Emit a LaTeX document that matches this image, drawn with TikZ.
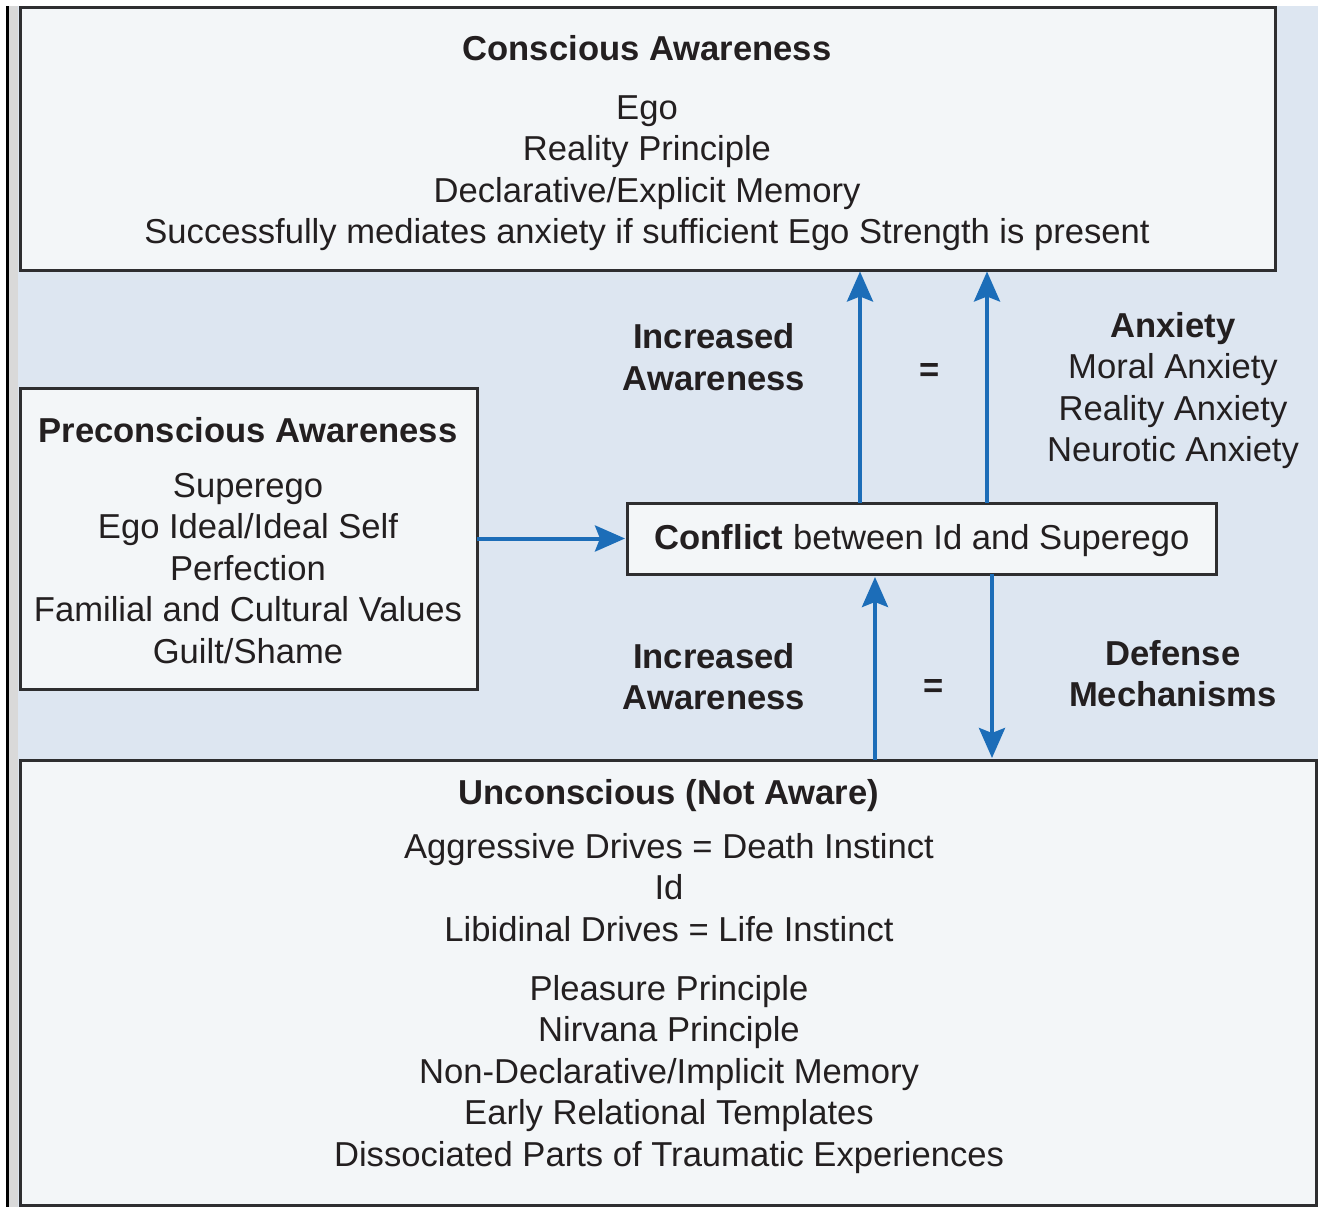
\documentclass[tikz,border=0pt]{standalone}
\usepackage{fontspec}
\setmainfont{Liberation Sans}
\usetikzlibrary{arrows.meta}

\definecolor{pagebg}{HTML}{DDE6F1}
\definecolor{stripgrey}{HTML}{D9D9D9}
\definecolor{boxfill}{HTML}{F3F6F8}
\definecolor{boxline}{HTML}{2E2E30}
\definecolor{arrowblue}{HTML}{1C6DB8}
\definecolor{ink}{HTML}{231F20}

\tikzset{
  panel/.style={draw=boxline, fill=boxfill, line width=3pt, inner sep=0pt, outer sep=0pt},
  txt/.style={anchor=base, inner sep=0pt, text=ink, font=\fontsize{34.6}{41.5}\selectfont},
  hd/.style={txt, font=\fontsize{34.6}{41.5}\selectfont\bfseries},
  eq/.style={anchor=center, inner sep=0pt, text=ink, font=\fontsize{34.6}{41.5}\selectfont\bfseries},
  flow/.style={draw=arrowblue, line width=4pt,
    -{Stealth[length=30pt, width=26pt, inset=5pt]}},
}

\begin{document}
\begin{tikzpicture}[x=1pt, y=-1pt]
  \useasboundingbox (0,0) rectangle (1322,1207);

  % page ground: white margin, black rule, grey strip, blue field
  \fill[white] (0,0) rectangle (1322,1207);
  \fill[pagebg] (18,6) rectangle (1318,1207);
  \fill[stripgrey] (8,6) rectangle (18,1207);
  \fill[black] (6,6) rectangle (8.5,1207);

  % level panels
  \node[panel, minimum width=1255pt, minimum height=262pt] (conscious) at (647.5,139) {};
  \node[panel, minimum width=457pt, minimum height=301pt] (precon) at (248.5,538.5) {};
  \node[panel, minimum width=589pt, minimum height=71pt] (conflict) at (921.5,538.5) {};
  \node[panel, minimum width=1296pt, minimum height=445pt] (uncon) at (668,982.5) {};

  % conscious level
  \node[hd]  (c0) at (647,60)    {Conscious Awareness};
  \node[txt] (c1) at (647,119)   {Ego};
  \node[txt] (c2) at (647,160.5) {Reality Principle};
  \node[txt] (c3) at (647,202)   {Declarative/Explicit Memory};
  \node[txt] (c4) at (647,243.5) {Successfully mediates anxiety if sufficient Ego Strength is present};

  % preconscious level
  \node[hd]  (p0) at (248,442) {Preconscious Awareness};
  \node[txt] (p1) at (248,497) {Superego};
  \node[txt] (p2) at (248,538.5) {Ego Ideal/Ideal Self};
  \node[txt] (p3) at (248,580) {Perfection};
  \node[txt] (p4) at (248,621.5) {Familial and Cultural Values};
  \node[txt] (p5) at (248,663) {Guilt/Shame};

  % conflict
  \node[txt] (k0) at (922,549) {\textbf{Conflict} between Id and Superego};

  % upper labels
  \node[hd]  (ia1) at (714,348) {Increased};
  \node[hd]  (ia2) at (714,390) {Awareness};
  \node[eq]  (eq1) at (930,372) {=};
  \node[hd]  (a0) at (1173,337) {Anxiety};
  \node[txt] (a1) at (1173,378.5) {Moral Anxiety};
  \node[txt] (a2) at (1173,420) {Reality Anxiety};
  \node[txt] (a3) at (1173,461.5) {Neurotic Anxiety};

  % lower labels
  \node[hd]  (ib1) at (714,668) {Increased};
  \node[hd]  (ib2) at (714,709) {Awareness};
  \node[eq]  (eq2) at (934,688) {=};
  \node[hd]  (d1) at (1173,665) {Defense};
  \node[hd]  (d2) at (1173,706) {Mechanisms};

  % unconscious level
  \node[hd]  (u0) at (669,804)  {Unconscious (Not Aware)};
  \node[txt] (u1) at (669,858)  {Aggressive Drives = Death Instinct};
  \node[txt] (u2) at (669,899.5) {Id};
  \node[txt] (u3) at (669,941)  {Libidinal Drives = Life Instinct};
  \node[txt] (u4) at (669,1000) {Pleasure Principle};
  \node[txt] (u5) at (669,1041.5) {Nirvana Principle};
  \node[txt] (u6) at (669,1083) {Non-Declarative/Implicit Memory};
  \node[txt] (u7) at (669,1124.5) {Early Relational Templates};
  \node[txt] (u8) at (669,1166) {Dissociated Parts of Traumatic Experiences};

  % connectors
  \draw[flow, shorten >=2pt] (precon.east) -- (conflict.west);
  \draw[flow, shorten >=1.5pt] (conflict.north -| 860,0) -- (conscious.south -| 860,0);
  \draw[flow, shorten >=1.5pt] (conflict.north -| 987,0) -- (conscious.south -| 987,0);
  \draw[flow, shorten >=3pt] (uncon.north -| 875,0) -- (conflict.south -| 875,0);
  \draw[flow, shorten >=2pt] (conflict.south -| 992,0) -- (uncon.north -| 992,0);
\end{tikzpicture}
\end{document}
